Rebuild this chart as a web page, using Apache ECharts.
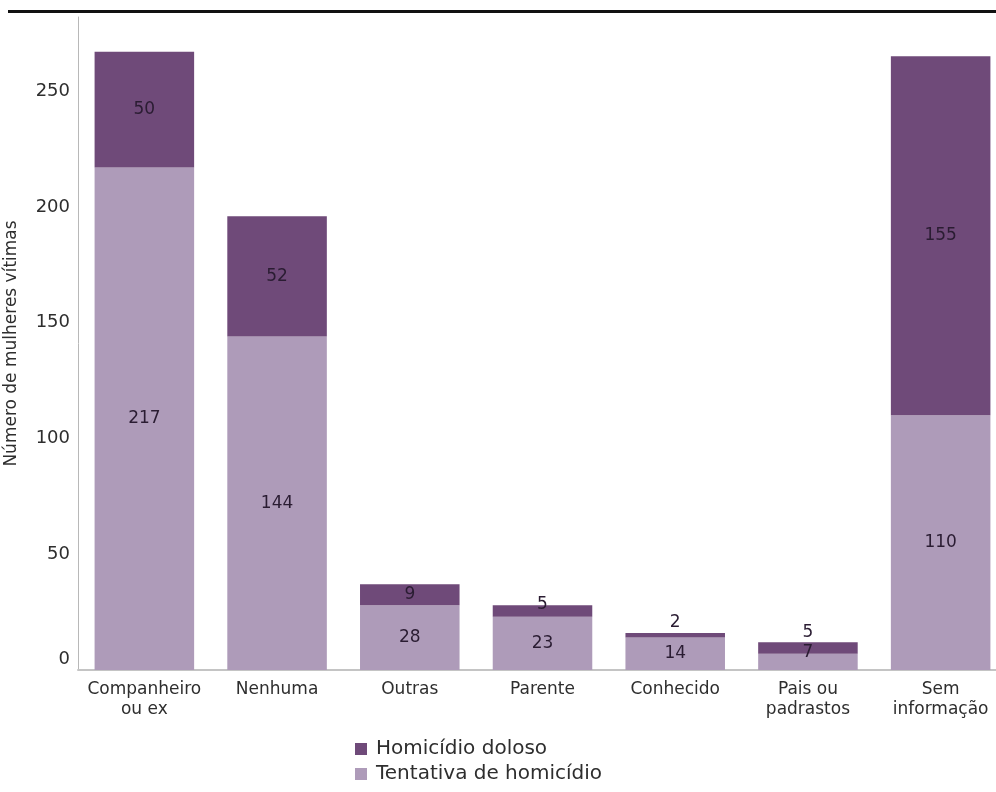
<!DOCTYPE html>
<html>
<head>
<meta charset="utf-8">
<script src="https://cdn.jsdelivr.net/npm/echarts@6/dist/echarts.min.js"></script>
<style>
  html, body { margin: 0; padding: 0; background: #ffffff; }
  #chart { width: 996px; height: 792px; }
</style>
</head>
<body>
<div id="chart"></div>
<script>
// Vínculo do autor com a vítima
const categories = ['Companheiro\nou ex', 'Nenhuma', 'Outras', 'Parente', 'Conhecido', 'Pais ou\npadrastos', 'Sem\ninformação'];
const tentativa = [217, 144, 28, 23, 14, 7, 110];
const doloso = [50, 52, 9, 5, 2, 5, 155];
const yTicks = [0, 50, 100, 150, 200, 250];

const DARK = '#6f4a79';
const LIGHT = '#ae9bb9';
const FONT = '"DejaVu Sans", sans-serif';
const TEXT = '#2e2e2e';

// Label placement for the thin segments
const dolosoLabelTweak = {
  3: { position: 'inside', offset: [0, -6] },
  4: { position: 'top', distance: 2 },
  5: { position: 'top', distance: 1 }
};
const tentativaLabelTweak = {
  5: { position: 'inside', offset: [0, -9] }
};

function buildData(values, tweaks) {
  return values.map((v, i) => tweaks[i] ? { value: v, label: tweaks[i] } : v);
}

const labelStyle = {
  show: true,
  position: 'inside',
  fontFamily: FONT,
  fontSize: 17,
  color: '#2a1c32'
};

const chart = echarts.init(document.getElementById('chart'), null, { renderer: 'canvas' });
chart.setOption({
  animation: false,
  backgroundColor: '#ffffff',
  grid: { left: 78, top: 17, bottom: 122, width: 929, containLabel: false, outerBoundsMode: 'none' },
  xAxis: {
    type: 'category',
    data: categories,
    axisLine: { lineStyle: { color: '#c4c4c4', width: 2 } },
    axisTick: { show: false },
    axisLabel: { fontFamily: FONT, fontSize: 17, color: TEXT, lineHeight: 20, margin: 10, interval: 0 }
  },
  yAxis: {
    type: 'value',
    min: 0,
    max: 282,
    interval: 50,
    name: 'Número de mulheres vítimas',
    nameLocation: 'middle',
    nameGap: 58,
    nameTextStyle: { fontFamily: FONT, fontSize: 17, color: TEXT },
    axisLine: { show: true, lineStyle: { color: '#b8b8b8', width: 1 } },
    axisTick: { show: false },
    splitLine: { show: false },
    axisLabel: {
      fontFamily: FONT, fontSize: 18, color: TEXT, margin: 8,
      showMaxLabel: false,
      formatter: v => yTicks.indexOf(v) === -1 ? '' : (v === 0 ? '{z|0}' : String(v)),
      rich: { z: { fontFamily: FONT, fontSize: 18, color: TEXT, padding: [0, 0, 22, 0] } }
    }
  },
  legend: {
    orient: 'vertical',
    left: 355,
    top: 739,
    height: 60,
    padding: 0,
    itemWidth: 12,
    itemHeight: 12,
    itemGap: 5,
    icon: 'rect',
    textStyle: { fontFamily: FONT, fontSize: 20, lineHeight: 20, color: TEXT, padding: [0, 0, 0, 4] },
    data: ['Homicídio doloso', 'Tentativa de homicídio']
  },
  series: [
    {
      name: 'Tentativa de homicídio',
      type: 'bar',
      stack: 'total',
      barWidth: '75%',
      itemStyle: { color: LIGHT },
      label: labelStyle,
      data: buildData(tentativa, tentativaLabelTweak)
    },
    {
      name: 'Homicídio doloso',
      type: 'bar',
      stack: 'total',
      barWidth: '75%',
      itemStyle: { color: DARK },
      label: labelStyle,
      data: buildData(doloso, dolosoLabelTweak)
    }
  ],
  graphic: [
    {
      type: 'rect',
      shape: { x: 8, y: 10, width: 988, height: 3 },
      style: { fill: '#111111' },
      silent: true
    }
  ]
});
</script>
</body>
</html>
